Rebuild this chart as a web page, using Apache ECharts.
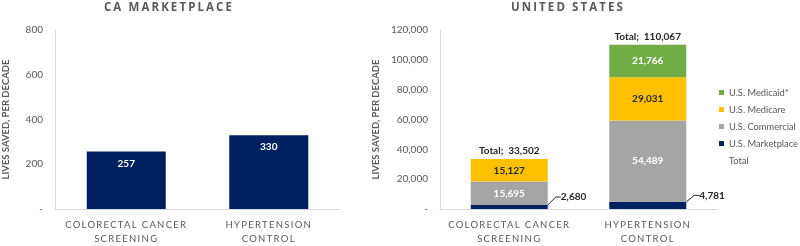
<!DOCTYPE html>
<html>
<head>
<meta charset="utf-8">
<script src="https://cdn.jsdelivr.net/npm/echarts@6/dist/echarts.min.js"></script>
<style>
  html, body { margin: 0; padding: 0; background: #fff; }
  #chart { width: 800px; height: 246px; }
</style>
</head>
<body>
<div id="chart"></div>
<script>
// ---- data ----
const categories = ['COLORECTAL CANCER\nSCREENING', 'HYPERTENSION\nCONTROL'];
const caValues = [257, 330];
const usMarketplace = [2680, 4781];
const usCommercial = [15695, 54489];
const usMedicare = [15127, 29031];
const usMedicaid = ['-', 21766];
const usTotal = [33502, 110067];
const caTicks = { min: 0, max: 800, interval: 200 };
const usTicks = { min: 0, max: 120000, interval: 20000 };
const titles = ['CA MARKETPLACE', 'UNITED STATES'];
const yName = 'LIVES SAVED, PER DECADE';
const legendNames = ['U.S. Medicaid*', 'U.S. Medicare', 'U.S. Commercial', 'U.S. Marketplace', 'Total'];

// ---- letter spacing support (canvas) ----
(function () {
  const proto = CanvasRenderingContext2D.prototype;
  const orig = proto.fillText;
  proto.fillText = function (t, x, y, m) {
    if ('letterSpacing' in this) {
      const f = this.font || '';
      this.letterSpacing = f.indexOf('SpacedA') >= 0 ? '2.1px' : (f.indexOf('SpacedB') >= 0 ? '1.3px' : '0px');
    }
    return m === undefined ? orig.call(this, t, x, y) : orig.call(this, t, x, y, m);
  };
})();

// ---- style ----
const FONT = "Lato";
const TITLE_FONT = "Open Sans, SpacedA";
const CAT_FONT = "Lato, SpacedB";
const GRAY = '#595959';
const NAVY = '#002060';
const DARK = '#262626';
const fmt = v => v === 0 ? '-' : v.toLocaleString('en-US');

const chart = echarts.init(document.getElementById('chart'));

function yAxis(idx, t) {
  return {
    type: 'value', gridIndex: idx, min: t.min, max: t.max, interval: t.interval,
    name: yName, nameLocation: 'middle', nameGap: idx === 0 ? 44 : 59,
    nameTextStyle: { fontFamily: FONT, fontWeight: 'bold', fontSize: 9.5, color: GRAY },
    axisLine: { show: true, lineStyle: { color: '#D9D9D9', width: 1 } },
    axisTick: { show: false },
    splitLine: { show: false },
    axisLabel: { fontFamily: FONT, fontSize: 10, color: GRAY, margin: 12, formatter: fmt }
  };
}
function xAxis(idx) {
  return {
    type: 'category', gridIndex: idx, data: categories,
    axisLine: { show: true, lineStyle: { color: '#D9D9D9', width: 1 } },
    axisTick: { show: false },
    axisLabel: { fontFamily: CAT_FONT, fontSize: 9.5, color: GRAY, margin: 9, lineHeight: 14, interval: 0 }
  };
}
const segLabel = (color) => ({
  show: true, position: 'inside', fontFamily: FONT, fontWeight: 'bold', fontSize: 10, color: color,
  formatter: p => fmt(p.value)
});

const option = {
  animation: false,
  backgroundColor: '#fff',
  title: [
    { text: titles[0], left: 169, top: 2, padding: 0, textAlign: 'center',
      textStyle: { fontFamily: TITLE_FONT, fontWeight: 'bold', fontSize: 11.5, color: GRAY } },
    { text: titles[1], left: 568, top: 2, padding: 0, textAlign: 'center',
      textStyle: { fontFamily: TITLE_FONT, fontWeight: 'bold', fontSize: 11.5, color: GRAY } }
  ],
  grid: [
    { left: 53, right: 460, top: 30, bottom: 33 },
    { left: 440, right: 83, top: 30, bottom: 33 }
  ],
  legend: {
    orient: 'vertical', left: 719, top: 88, padding: 0, itemWidth: 5, itemHeight: 5, itemGap: 8,
    icon: 'rect', data: legendNames,
    textStyle: { fontFamily: FONT, fontSize: 9.3, color: GRAY }
  },
  xAxis: [xAxis(0), xAxis(1)],
  yAxis: [yAxis(0, caTicks), yAxis(1, usTicks)],
  series: [
    { name: 'CA', type: 'bar', xAxisIndex: 0, yAxisIndex: 0, data: caValues, barWidth: 79,
      itemStyle: { color: NAVY },
      label: { show: true, position: 'insideTop', distance: 7, fontFamily: FONT, fontWeight: 'bold', fontSize: 10, color: '#fff' } },
    { name: legendNames[3], type: 'bar', stack: 'us', xAxisIndex: 1, yAxisIndex: 1, data: usMarketplace, barWidth: 77, barGap: '-100%',
      itemStyle: { color: NAVY },
      label: { show: true, position: 'right', distance: 4, fontFamily: FONT, fontWeight: 'bold', fontSize: 10, color: DARK,
        formatter: p => fmt(p.value) },
      labelLayout: { dx: 9, dy: -10 },
      labelLine: { show: true, length2: 5, lineStyle: { color: '#1F2A44', width: 1 } } },
    { name: legendNames[2], type: 'bar', stack: 'us', xAxisIndex: 1, yAxisIndex: 1, data: usCommercial, barWidth: 77, barGap: '-100%',
      itemStyle: { color: '#A5A5A5' }, label: segLabel('#fff') },
    { name: legendNames[1], type: 'bar', stack: 'us', xAxisIndex: 1, yAxisIndex: 1, data: usMedicare, barWidth: 77, barGap: '-100%',
      itemStyle: { color: '#FFC000' }, label: segLabel(DARK) },
    { name: legendNames[0], type: 'bar', stack: 'us', xAxisIndex: 1, yAxisIndex: 1, data: usMedicaid, barWidth: 77, barGap: '-100%',
      itemStyle: { color: '#70AD47' }, label: segLabel('#fff') },
    { name: legendNames[4], type: 'bar', xAxisIndex: 1, yAxisIndex: 1, data: usTotal, barWidth: 77, barGap: '-100%', z: 1,
      itemStyle: { color: 'rgba(0,0,0,0)' },
      label: { show: true, position: 'top', distance: 3, fontFamily: FONT, fontWeight: 'bold', fontSize: 10, color: DARK,
        formatter: p => 'Total;  ' + fmt(p.value) } }
  ]
};
chart.setOption(option);
</script>
</body>
</html>
